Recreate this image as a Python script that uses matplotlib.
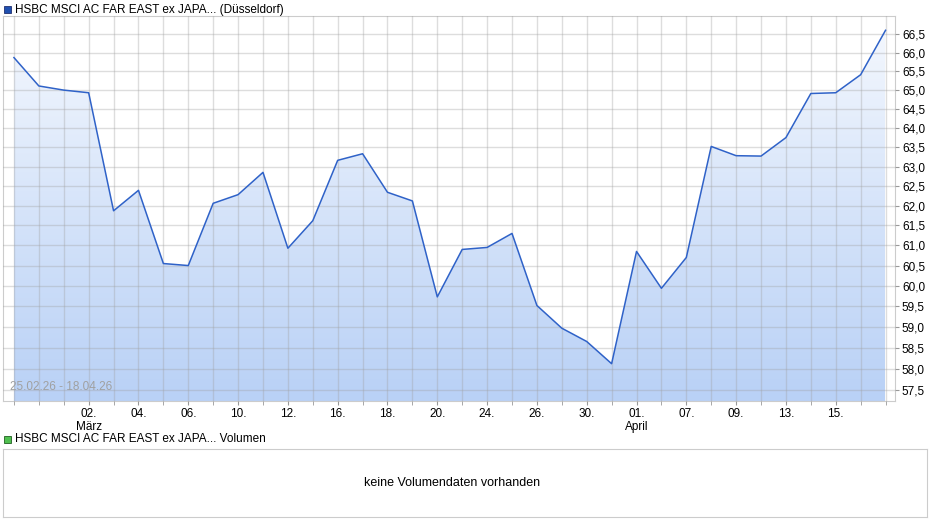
import numpy as np
import matplotlib
matplotlib.use("Agg")
import matplotlib.pyplot as plt
from matplotlib.ticker import FixedLocator, NullLocator
from matplotlib.colors import LinearSegmentedColormap

values = [65.87, 65.11, 65.0, 64.93, 61.87, 62.39, 60.55, 60.50, 62.06, 62.28,
          62.85, 60.93, 61.62, 63.16, 63.33, 62.34, 62.12, 59.73, 60.90, 60.95,
          61.30, 59.52, 58.97, 58.65, 58.12, 60.85, 59.94, 60.70, 63.52, 63.28,
          63.27, 63.75, 64.91, 64.93, 65.41, 66.61]
tick_idx = [3, 5, 7, 9, 11, 13, 15, 17, 19, 21, 23, 25, 27, 29, 31, 33]
tick_labels = ["02.\nMärz", "04.", "06.", "10.", "12.", "16.", "18.", "20.", "24.",
               "26.", "30.", "01.\nApril", "07.", "09.", "13.", "15."]
yticks = [57.5 + 0.5 * i for i in range(19)]
ylabels = [f"{v:.1f}".replace(".", ",") for v in yticks]

plt.rcParams['font.family'] = ['Liberation Sans', 'DejaVu Sans']
fig = plt.figure(figsize=(9.4, 5.26), dpi=100)
W, H = 940, 526
ax = fig.add_axes([3 / W, 1 - 401 / H, 892 / W, 385 / H])
x = np.arange(len(values))
ax.set_yscale('log')
ax.set_xlim(-0.44, 35.38)
ax.set_ylim(57.24, 67.0)

grad = np.linspace(0, 1, 256).reshape(-1, 1)
cmap = LinearSegmentedColormap.from_list("g", ["#b9d1f6", "#f6f9fe"])
poly = ax.fill_between(x, values, 57.24, color="none", lw=0)
im = ax.imshow(grad, extent=[x[0], x[-1], 57.24, 67.0], aspect='auto', cmap=cmap,
               origin='lower', zorder=1)
im.set_clip_path(poly.get_paths()[0], transform=ax.transData)
ax.plot(x, values, color="#2f62c8", lw=1.1, zorder=3)

ax.yaxis.set_major_locator(FixedLocator(yticks))
ax.yaxis.set_minor_locator(NullLocator())
ax.set_yticklabels(ylabels)
ax.yaxis.tick_right()
ax.set_xticks(x, minor=True)
ax.set_xticks(tick_idx)
ax.set_xticklabels(tick_labels)
ax.set_axisbelow(False)
ax.grid(True, which='both', color="#a0a0a0", alpha=0.35, lw=1, zorder=2)
ax.tick_params(axis='both', which='both', labelsize=8.5, length=3, color="#999999", pad=2)
for t in ax.get_xticklabels():
    t.set_linespacing(1.1)
for s in ax.spines.values():
    s.set_color("#cccccc")
ax.text(0.008, 0.02, "25.02.26 - 18.04.26", transform=ax.transAxes, fontsize=8.5,
        color="#a0a0a0", va='bottom', ha='left', zorder=5)

fig.patches.append(plt.Rectangle((4 / W, 1 - 13 / H), 7 / W, 7 / H, transform=fig.transFigure,
                                 facecolor="#2050b0", edgecolor="#203070", lw=0.6))
fig.text(15 / W, 1 - 9.5 / H, "HSBC MSCI AC FAR EAST ex JAPA... (Düsseldorf)", fontsize=8.5, va='center')

fig.patches.append(plt.Rectangle((4 / W, 1 - 443 / H), 7 / W, 7 / H, transform=fig.transFigure,
                                 facecolor="#50c050", edgecolor="#206020", lw=0.6))
fig.text(15 / W, 1 - 439.5 / H, "HSBC MSCI AC FAR EAST ex JAPA... Volumen", fontsize=8.5, va='center')

ax2 = fig.add_axes([3 / W, 1 - 517 / H, 924 / W, 68 / H])
ax2.set_xticks([]); ax2.set_yticks([])
for s in ax2.spines.values():
    s.set_color("#cccccc")
ax2.text(0.486, 0.5, "keine Volumendaten vorhanden", transform=ax2.transAxes,
         ha='center', va='center', fontsize=9)

fig.savefig("out.png", dpi=100)
